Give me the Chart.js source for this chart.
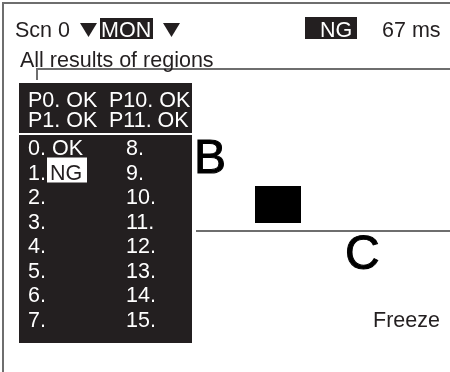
<!DOCTYPE html>
<html><head><meta charset="utf-8">
<script src="https://cdn.jsdelivr.net/npm/chart.js@4/dist/chart.umd.min.js"></script>
<style>html,body{margin:0;padding:0;background:#fff;overflow:hidden}canvas{display:block}</style>
</head><body><canvas id="c" width="450" height="372"></canvas>
<script>
// ---- content ----
const sceneLabel = 'Scn 0';
const modeLabel = 'MON';
const overallJudge = 'NG';
const timeLabel = '67 ms';
const titleLabel = 'All results of regions';
const posLeft = ['P0. OK', 'P1. OK'];
const posRight = ['P10. OK', 'P11. OK'];
const resLeft = ['0. OK', '1.', '2.', '3.', '4.', '5.', '6.', '7.'];
const resRight = ['8.', '9.', '10.', '11.', '12.', '13.', '14.', '15.'];
const ngRegions = [1];
const ngText = 'NG';
const regionNames = ['B', 'C'];
const statusLabel = 'Freeze';

// ---- layout (pixel units of the value scales) ----
const W = 450, H = 372;
const GRAY = '#6e6e6e', INK = '#231f20';
const FONT = '"Liberation Sans", Arial, sans-serif';
const FS = 21.5;

function seg(points, color, width) {
  return { type: 'line', data: points.map(p => ({ x: p[0], y: p[1] })), borderColor: color,
    borderWidth: width, pointRadius: 0, fill: false, tension: 0, order: 2 };
}

const datasets = [
  seg([[3, 372], [3, 3], [450, 3]], GRAY, 2),        // frame
  seg([[37, 80], [37, 69], [450, 69]], GRAY, 2),     // title underline + tick
  seg([[196, 231], [450, 231]], GRAY, 2)             // region divider
];

const drawer = {
  id: 'screen',
  afterDatasetsDraw(chart) {
    const ctx = chart.ctx, sx = chart.scales.x, sy = chart.scales.y;
    const X = v => sx.getPixelForValue(v), Y = v => sy.getPixelForValue(v);
    const rect = (x0, y0, x1, y1, c) => { ctx.fillStyle = c; ctx.fillRect(X(x0), Y(y0), X(x1) - X(x0), Y(y1) - Y(y0)); };
    const text = (s, x, y, c, size) => { ctx.fillStyle = c; ctx.font = (size || FS) + 'px ' + FONT; ctx.textBaseline = 'alphabetic'; ctx.textAlign = 'left'; ctx.fillText(s, X(x), Y(y)); };
    const tri = (x0, x1, y0, y1) => { ctx.fillStyle = INK; ctx.beginPath(); ctx.moveTo(X(x0), Y(y0)); ctx.lineTo(X(x1), Y(y0)); ctx.lineTo(X((x0 + x1) / 2), Y(y1)); ctx.closePath(); ctx.fill(); };
    ctx.save();
    // header
    text(sceneLabel, 15, 37, INK);
    tri(80, 97, 23, 37);
    rect(100, 18, 153, 39, INK);
    text(modeLabel, 101, 37, '#fff');
    tri(163, 180, 23, 37);
    rect(305, 17, 357, 39, INK);
    text(overallJudge, 320, 37, '#fff');
    text(timeLabel, 382, 37, INK);
    text(titleLabel, 20, 67, INK);
    // region graphics
    ctx.font = '48px ' + FONT;
    ctx.fillStyle = '#000';
    ctx.strokeStyle = '#000'; ctx.lineWidth = 1;
    ctx.fillText(regionNames[0], X(194), Y(173));
    ctx.strokeText(regionNames[0], X(194), Y(173));
    ctx.fillText(regionNames[1], X(345), Y(269));
    ctx.strokeText(regionNames[1], X(345), Y(269));
    rect(255, 186, 301, 223, '#000');
    text(statusLabel, 373, 327, INK);
    // results panel
    rect(19, 83, 192, 343, INK);
    rect(19, 133, 192, 135, '#fff');
    posLeft.forEach((s, i) => text(s, 28, 107 + i * 19.5, '#fff'));
    posRight.forEach((s, i) => text(s, 109, 107 + i * 19.5, '#fff'));
    resLeft.forEach((s, i) => {
      const y = 155 + i * 24.5;
      text(s, 28, y, '#fff');
      if (ngRegions.includes(i)) {
        rect(47, y - 22, 87, y + 3, '#fff');
        text(ngText, 50, y, INK);
      }
    });
    resRight.forEach((s, i) => text(s, 126, 155 + i * 24.5, '#fff'));
    ctx.restore();
  }
};

new Chart(document.getElementById('c'), {
  type: 'scatter',
  data: { datasets },
  options: {
    responsive: false, animation: false, devicePixelRatio: 1,
    layout: { padding: 0 },
    plugins: { legend: { display: false }, tooltip: { enabled: false } },
    scales: {
      x: { type: 'linear', min: 0, max: W, display: false },
      y: { type: 'linear', min: 0, max: H, reverse: true, display: false }
    },
    elements: { line: { borderCapStyle: 'butt' } },
    showLine: true
  },
  plugins: [drawer]
});
</script>
</body></html>
